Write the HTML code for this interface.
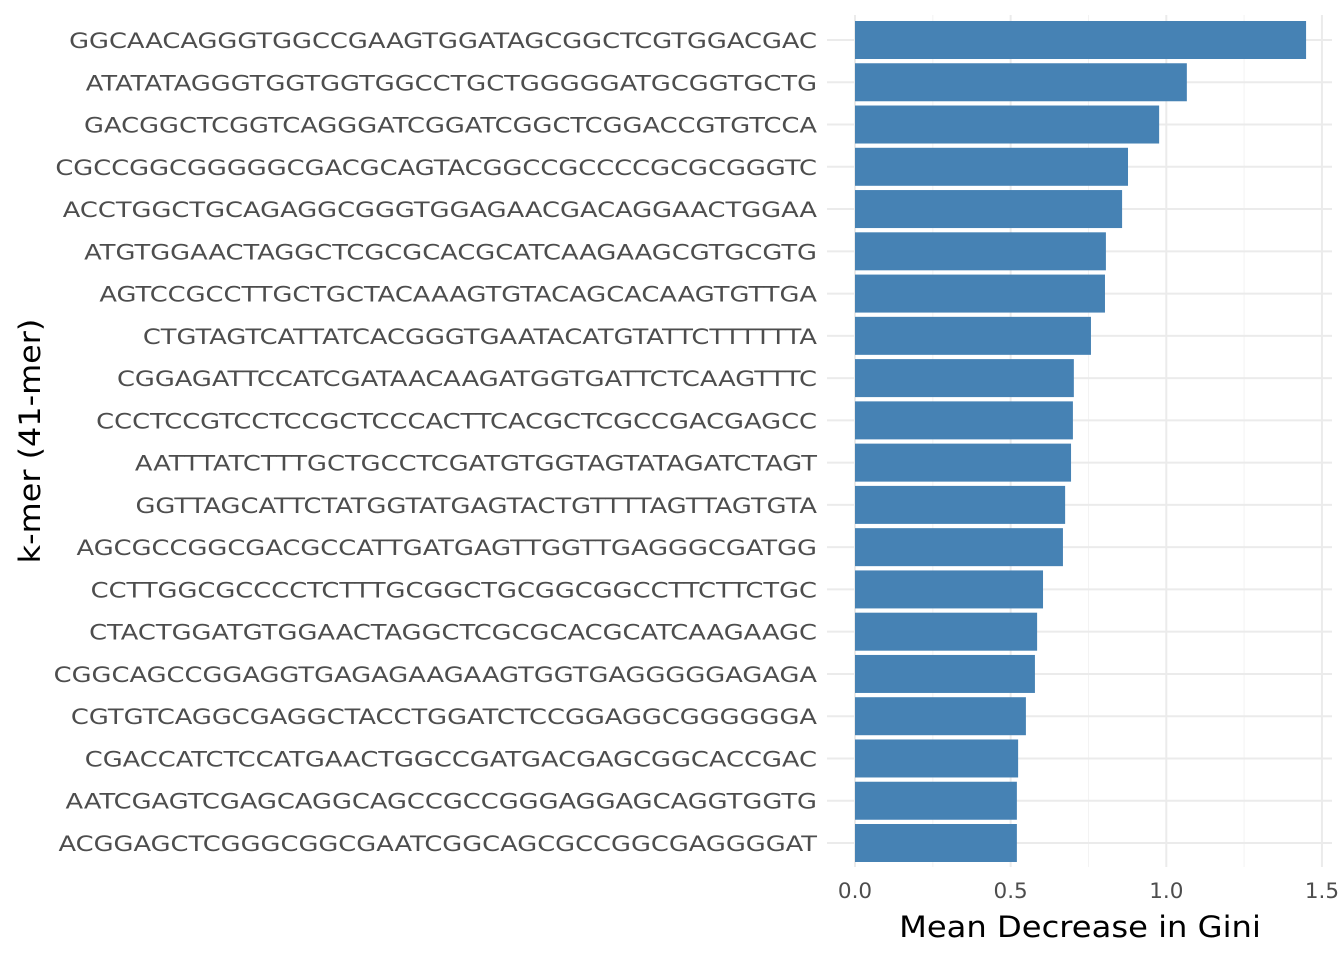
<!DOCTYPE html>
<html><head><meta charset="utf-8"><style>
body{margin:0;background:#fff}
svg{display:block;font-family:"DejaVu Sans","Liberation Sans",sans-serif}
</style></head><body>
<svg id="chart" width="1344" height="960"></svg>
<script>
const kmers=["GGCAACAGGGTGGCCGAAGTGGATAGCGGCTCGTGGACGAC","ATATATAGGGTGGTGGTGGCCTGCTGGGGGATGCGGTGCTG","GACGGCTCGGTCAGGGATCGGATCGGCTCGGACCGTGTCCA","CGCCGGCGGGGGCGACGCAGTACGGCCGCCCCGCGCGGGTC","ACCTGGCTGCAGAGGCGGGTGGAGAACGACAGGAACTGGAA","ATGTGGAACTAGGCTCGCGCACGCATCAAGAAGCGTGCGTG","AGTCCGCCTTGCTGCTACAAAGTGTACAGCACAAGTGTTGA","CTGTAGTCATTATCACGGGTGAATACATGTATTCTTTTTTA","CGGAGATTCCATCGATAACAAGATGGTGATTCTCAAGTTTC","CCCTCCGTCCTCCGCTCCCACTTCACGCTCGCCGACGAGCC","AATTTATCTTTGCTGCCTCGATGTGGTAGTATAGATCTAGT","GGTTAGCATTCTATGGTATGAGTACTGTTTTAGTTAGTGTA","AGCGCCGGCGACGCCATTGATGAGTTGGTTGAGGGCGATGG","CCTTGGCGCCCCTCTTTGCGGCTGCGGCGGCCTTCTTCTGC","CTACTGGATGTGGAACTAGGCTCGCGCACGCATCAAGAAGC","CGGCAGCCGGAGGTGAGAGAAGAAGTGGTGAGGGGGAGAGA","CGTGTCAGGCGAGGCTACCTGGATCTCCGGAGGCGGGGGGA","CGACCATCTCCATGAACTGGCCGATGACGAGCGGCACCGAC","AATCGAGTCGAGCAGGCAGCCGCCGGGAGGAGCAGGTGGTG","ACGGAGCTCGGGCGGCGAATCGGCAGCGCCGGCGAGGGGAT"];
const gini=[1.449,1.066,0.977,0.877,0.858,0.806,0.803,0.758,0.703,0.700,0.694,0.675,0.668,0.604,0.585,0.578,0.549,0.524,0.520,0.520];
const xTicks=[0,0.5,1.0,1.5];
const xTickLabels=["0.0","0.5","1.0","1.5"];
const xMinor=[0.25,0.75,1.25];
const NS="http://www.w3.org/2000/svg";
const svg=document.getElementById("chart");
const x0=855,xs=311.3,pl=827,pr=1332,pt=15,pb=867,y0=40,step=(843-40)/19,bh=38;
const X=v=>x0+v*xs, Y=i=>y0+i*step;
function mk(t,a,p){const e=document.createElementNS(NS,t);for(const k in a)e.setAttribute(k,a[k]);(p||svg).appendChild(e);return e;}
for(const v of xMinor){const l=mk("line",{x1:X(v),x2:X(v),y1:pt,y2:pb,stroke:"#f3f3f3","stroke-width":1});

}
for(const v of xTicks){const l=mk("line",{x1:X(v),x2:X(v),y1:pt,y2:pb,stroke:"#ebebeb","stroke-width":2});

}
kmers.forEach((k,i)=>{const l=mk("line",{x1:pl,x2:pr,y1:Y(i),y2:Y(i),stroke:"#ebebeb","stroke-width":2});

});
kmers.forEach((k,i)=>{
const r=mk("rect",{x:X(0),y:Y(i)-bh/2,width:X(gini[i])-X(0),height:bh,fill:"#4682B4"});


const t=mk("text",{x:0,y:0,transform:`translate(817,${Y(i)+8}) scale(1.197,1)`,"text-anchor":"end","font-size":21.5,fill:"#4d4d4d"});t.textContent=k;


});
xTicks.forEach((v,i)=>{const t=mk("text",{x:X(v),y:898,"text-anchor":"middle","font-size":21.5,fill:"#4d4d4d"});t.textContent=xTickLabels[i];

});
const xt=mk("text",{x:0,y:0,transform:"translate(1080,937) scale(1.11,1)","text-anchor":"middle","font-size":29,fill:"#000"});xt.textContent="Mean Decrease in Gini";


const yt=mk("text",{x:0,y:0,transform:"translate(40,441) rotate(-90) scale(1.1,1)","text-anchor":"middle","font-size":29,fill:"#000"});yt.textContent="k-mer (41-mer)";


</script>
</body></html>
